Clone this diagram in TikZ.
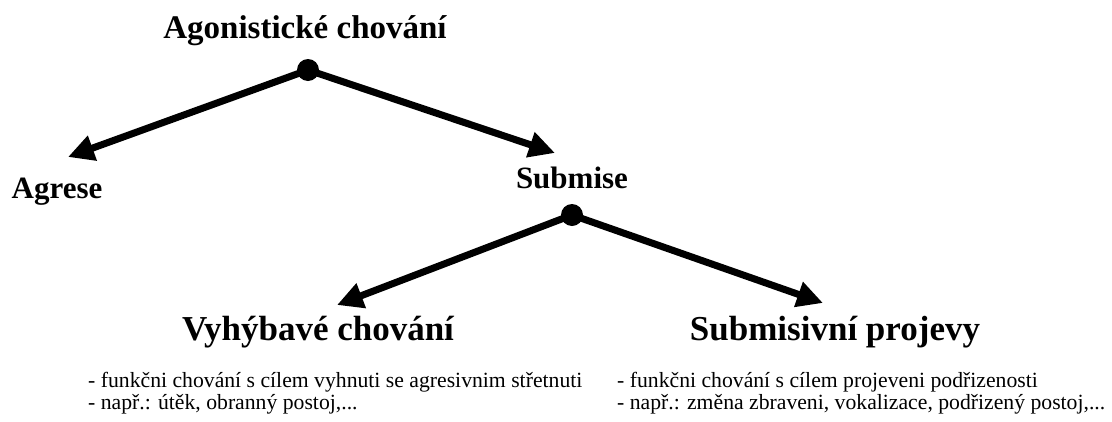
\documentclass[tikz,border=0pt]{standalone}
\usepackage{fontspec}
\setmainfont{Liberation Serif}
\usetikzlibrary{arrows.meta}
\tikzset{
  head/.style={font=\bfseries\fontsize{31}{36}\selectfont, anchor=base, inner sep=0pt},
  big/.style={font=\bfseries\fontsize{35}{40}\selectfont, anchor=base, inner sep=0pt},
  note/.style={font=\fontsize{21.7}{24}\selectfont, anchor=base west, inner sep=0pt},
  knot/.style={circle, fill, inner sep=0pt, minimum size=22pt},
  branch/.style={line width=7pt, -{Triangle[length=26pt,width=25pt]}}
}
\begin{document}
\begin{tikzpicture}[x=1pt,y=-1pt]
  \useasboundingbox (0,0) rectangle (1112,421);
  \node[head, font=\bfseries\fontsize{33}{38}\selectfont] (agon) at (305,38) {Agonistické chování};
  \node[knot] (k1) at (308,70) {};
  \node[head] (agrese) at (57,198) {Agrese};
  \node[head] (subm) at (572,188) {Submise};
  \node[knot] (k2) at (572,215) {};
  \node[big] (vyh) at (318,340) {Vyhýbavé chování};
  \node[big] (proj) at (835,340) {Submisivní projevy};
  \node[note] (vyhA) at (88,387) {- funkčni chování s cílem vyhnuti se agresivnim střetnuti};
  \node[note] (vyhB) at (88,409) {- např.: útěk, obranný postoj,...};
  \node[note] (projA) at (617,387) {- funkčni chování s cílem projeveni podřizenosti};
  \node[note] (projB) at (617,409) {- např.: změna zbraveni, vokalizace, podřizený postoj,...};
  \coordinate (t1) at (68,157);
  \coordinate (t2) at (555,153);
  \coordinate (t3) at (337,305);
  \coordinate (t4) at (823,303);
  \begin{scope}[branch]
    \draw (k1.center) to (t1);
    \draw (k1.center) to (t2);
    \draw (k2.center) to (t3);
    \draw (k2.center) to (t4);
  \end{scope}
\end{tikzpicture}
\end{document}
